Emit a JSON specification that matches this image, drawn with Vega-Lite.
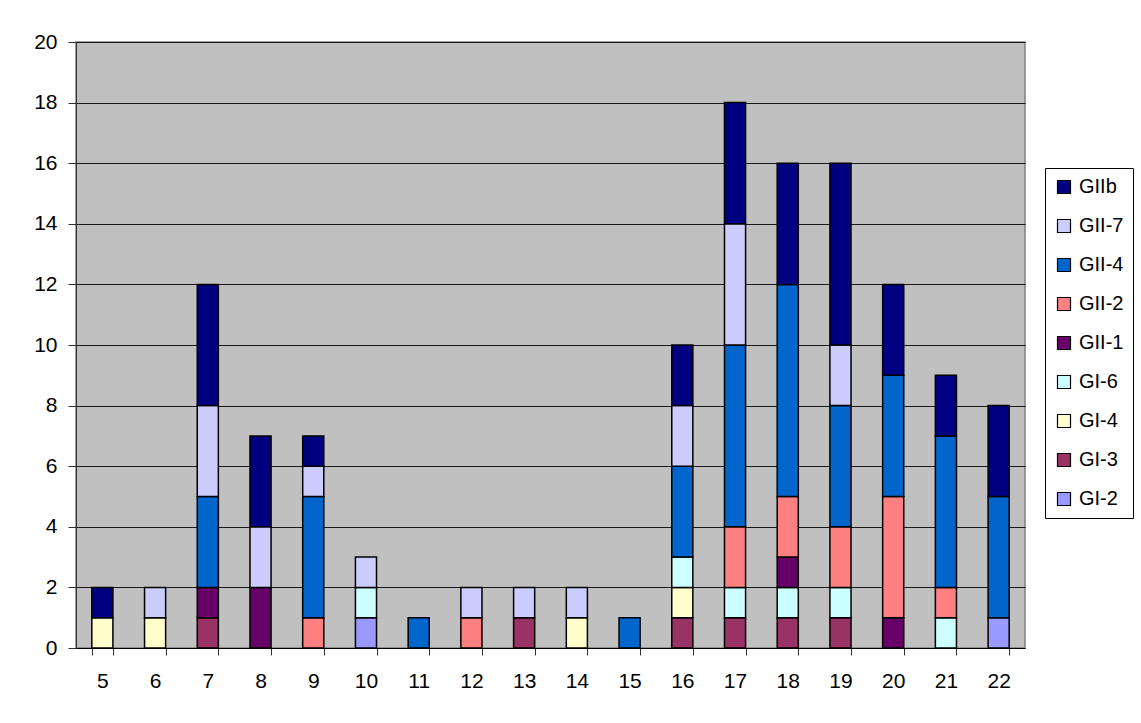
{
  "$schema": "https://vega.github.io/schema/vega-lite/v6.json",
  "width": 949,
  "height": 606,
  "autosize": {"type": "none"},
  "padding": {"left": 76, "top": 42, "right": 116, "bottom": 75},
  "background": "white",
  "data": {
    "values": [
      {"week": 5, "type": "GI-4", "n": 1},
      {"week": 5, "type": "GIIb", "n": 1},
      {"week": 6, "type": "GI-4", "n": 1},
      {"week": 6, "type": "GII-7", "n": 1},
      {"week": 7, "type": "GI-3", "n": 1},
      {"week": 7, "type": "GII-1", "n": 1},
      {"week": 7, "type": "GII-4", "n": 3},
      {"week": 7, "type": "GII-7", "n": 3},
      {"week": 7, "type": "GIIb", "n": 4},
      {"week": 8, "type": "GII-1", "n": 2},
      {"week": 8, "type": "GII-7", "n": 2},
      {"week": 8, "type": "GIIb", "n": 3},
      {"week": 9, "type": "GII-2", "n": 1},
      {"week": 9, "type": "GII-4", "n": 4},
      {"week": 9, "type": "GII-7", "n": 1},
      {"week": 9, "type": "GIIb", "n": 1},
      {"week": 10, "type": "GI-2", "n": 1},
      {"week": 10, "type": "GI-6", "n": 1},
      {"week": 10, "type": "GII-7", "n": 1},
      {"week": 11, "type": "GII-4", "n": 1},
      {"week": 12, "type": "GII-2", "n": 1},
      {"week": 12, "type": "GII-7", "n": 1},
      {"week": 13, "type": "GI-3", "n": 1},
      {"week": 13, "type": "GII-7", "n": 1},
      {"week": 14, "type": "GI-4", "n": 1},
      {"week": 14, "type": "GII-7", "n": 1},
      {"week": 15, "type": "GII-4", "n": 1},
      {"week": 16, "type": "GI-3", "n": 1},
      {"week": 16, "type": "GI-4", "n": 1},
      {"week": 16, "type": "GI-6", "n": 1},
      {"week": 16, "type": "GII-4", "n": 3},
      {"week": 16, "type": "GII-7", "n": 2},
      {"week": 16, "type": "GIIb", "n": 2},
      {"week": 17, "type": "GI-3", "n": 1},
      {"week": 17, "type": "GI-6", "n": 1},
      {"week": 17, "type": "GII-2", "n": 2},
      {"week": 17, "type": "GII-4", "n": 6},
      {"week": 17, "type": "GII-7", "n": 4},
      {"week": 17, "type": "GIIb", "n": 4},
      {"week": 18, "type": "GI-3", "n": 1},
      {"week": 18, "type": "GI-6", "n": 1},
      {"week": 18, "type": "GII-1", "n": 1},
      {"week": 18, "type": "GII-2", "n": 2},
      {"week": 18, "type": "GII-4", "n": 7},
      {"week": 18, "type": "GIIb", "n": 4},
      {"week": 19, "type": "GI-3", "n": 1},
      {"week": 19, "type": "GI-6", "n": 1},
      {"week": 19, "type": "GII-2", "n": 2},
      {"week": 19, "type": "GII-4", "n": 4},
      {"week": 19, "type": "GII-7", "n": 2},
      {"week": 19, "type": "GIIb", "n": 6},
      {"week": 20, "type": "GII-1", "n": 1},
      {"week": 20, "type": "GII-2", "n": 4},
      {"week": 20, "type": "GII-4", "n": 4},
      {"week": 20, "type": "GIIb", "n": 3},
      {"week": 21, "type": "GI-6", "n": 1},
      {"week": 21, "type": "GII-2", "n": 1},
      {"week": 21, "type": "GII-4", "n": 5},
      {"week": 21, "type": "GIIb", "n": 2},
      {"week": 22, "type": "GI-2", "n": 1},
      {"week": 22, "type": "GII-4", "n": 4},
      {"week": 22, "type": "GIIb", "n": 3}
    ]
  },
  "mark": {"type": "bar", "stroke": "black", "strokeWidth": 1.5},
  "encoding": {
    "x": {
      "field": "week",
      "type": "ordinal",
      "scale": {"paddingInner": 0.6, "paddingOuter": 0.3},
      "axis": {
        "title": null,
        "labelAngle": 0,
        "tickBand": "extent",
        "tickSize": 7,
        "tickColor": "#333333",
        "domainColor": "#000000",
        "labelPadding": 15,
        "labelFont": "Liberation Sans",
        "labelFontSize": 21,
        "labelColor": "black"
      }
    },
    "y": {
      "aggregate": "sum",
      "field": "n",
      "type": "quantitative",
      "stack": "zero",
      "scale": {"domain": [0, 20], "nice": false},
      "axis": {
        "title": null,
        "values": [0, 2, 4, 6, 8, 10, 12, 14, 16, 18, 20],
        "grid": true,
        "gridColor": "#1a1a1a",
        "gridWidth": 1,
        "tickSize": 8,
        "tickColor": "#333333",
        "domainColor": "#333333",
        "labelPadding": 11,
        "labelFont": "Liberation Sans",
        "labelFontSize": 21,
        "labelColor": "black"
      }
    },
    "color": {
      "field": "type",
      "type": "nominal",
      "scale": {
        "domain": ["GIIb", "GII-7", "GII-4", "GII-2", "GII-1", "GI-6", "GI-4", "GI-3", "GI-2"],
        "range": ["#000080", "#CCCCFF", "#0066CC", "#FF8080", "#660066", "#CCFFFF", "#FFFFCC", "#993366", "#9999FF"]
      },
      "legend": {
        "title": null,
        "orient": "none",
        "legendX": 969,
        "legendY": 126,
        "symbolType": "square",
        "symbolSize": 169,
        "symbolStrokeColor": "black",
        "symbolStrokeWidth": 1.2,
        "symbolOpacity": 1,
        "labelFont": "Liberation Sans",
        "labelFontSize": 20,
        "labelColor": "black",
        "labelOffset": 5,
        "labelExpr": "datum.label == 'GI-2' ? '\u00a0GI-2' : datum.label",
        "rowPadding": 19,
        "padding": 9,
        "strokeColor": "black",
        "fillColor": "white"
      }
    },
    "order": {"field": "type", "sort": "ascending"}
  },
  "config": {
    "view": {"fill": "#C0C0C0", "stroke": "#808080", "strokeWidth": 1.5},
    "font": "Liberation Sans"
  }
}
